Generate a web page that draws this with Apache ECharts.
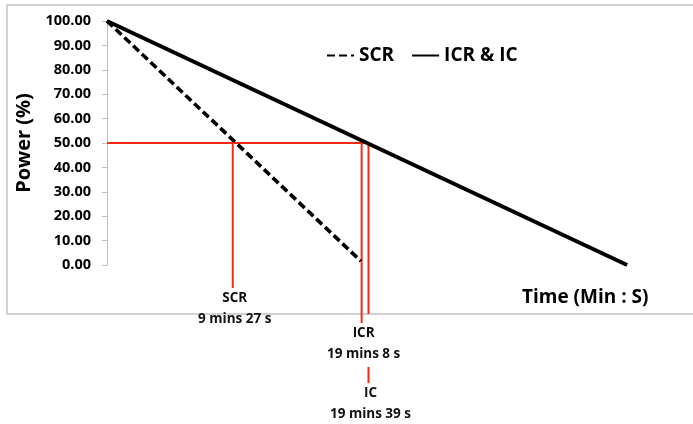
<!DOCTYPE html>
<html>
<head>
<meta charset="utf-8">
<script src="https://cdn.jsdelivr.net/npm/echarts@6/dist/echarts.min.js"></script>
<style>
html,body{margin:0;padding:0;background:#fff;}
#c{width:693px;height:424px;}
</style>
</head>
<body>
<div id="c"></div>
<script>
// Time in seconds, power in %
const scrLine = [[0, 100], [1145, 1.6]];
const icrIcLine = [[0, 100], [2345, 0]];
const yTicks = [0, 10, 20, 30, 40, 50, 60, 70, 80, 90, 100];
const halfPower = 50;
const scrTime = 567;   // 9 mins 27 s
const icrTime = 1148;  // 19 mins 8 s
const icTime = 1179;   // 19 mins 39 s
const scrLabel = 'SCR\n9 mins 27 s';
const icrLabel = 'ICR\n19 mins 8 s';
const icLabel = 'IC\n19 mins 39 s';
// leader-line ends below the axis (in % units)
const scrLeaderEnd = -9.4;
const icrLeaderEnd = -23.8;
const icLeaderUpperEnd = -20.1;
const icLeaderLower = [-41.8, -48.4];

const FONT = '"Open Sans", Lato, sans-serif';
const RED = '#f52a10';

const chart = echarts.init(document.getElementById('c'), null, {renderer: 'canvas'});

function redSeries(name, data, label) {
  return {
    name: name,
    type: 'line',
    data: data,
    symbol: 'none',
    clip: false,
    silent: true,
    z: 1,
    itemStyle: {color: RED},
    lineStyle: {color: RED, width: 2},
    endLabel: label ? {
      show: true,
      formatter: label,
      position: 'bottom',
      distance: 2,
      color: '#111',
      fontFamily: FONT,
      fontWeight: 'bold',
      fontSize: 13.5,
      lineHeight: 20.5,
      align: 'center',
      verticalAlign: 'top'
    } : undefined
  };
}

const option = {
  animation: false,
  backgroundColor: '#fff',
  grid: {left: 107, top: 21, height: 244, width: 532.3, containLabel: false},
  xAxis: {
    type: 'value',
    min: 0,
    max: 2400,
    show: false
  },
  yAxis: {
    type: 'value',
    min: 0,
    max: 100,
    interval: 10,
    name: 'Power (%)',
    nameLocation: 'middle',
    nameRotate: 90,
    nameGap: 64,
    nameTextStyle: {fontFamily: FONT, fontWeight: 'bold', fontSize: 20, color: '#000'},
    axisLine: {show: true, lineStyle: {color: '#bfbfbf', width: 1}},
    axisTick: {show: true, inside: false, length: 5, lineStyle: {color: '#bfbfbf'}},
    splitLine: {show: false},
    axisLabel: {
      margin: 16,
      fontFamily: FONT,
      fontWeight: 'bold',
      fontSize: 14.5,
      color: '#000',
      formatter: v => yTicks.includes(v) ? v.toFixed(2) : ''
    }
  },
  legend: {
    data: ['SCR', 'ICR & IC'],
    left: 321,
    top: 41,
    itemWidth: 27,
    itemHeight: 14,
    itemGap: 17,
    itemStyle: {opacity: 0},
    textStyle: {fontFamily: FONT, fontWeight: 'bold', fontSize: 19, color: '#000'}
  },
  graphic: [
    {
      type: 'rect',
      silent: true,
      z: -10,
      shape: {x: 7, y: 5, width: 700, height: 309},
      style: {fill: null, stroke: '#c4c4c4', lineWidth: 1.5}
    },
    {
      type: 'text',
      silent: true,
      z: 10,
      left: 508,
      top: 284,
      style: {
        text: 'Time (Min : S)',
        fontFamily: FONT,
        fontWeight: 'bold',
        fontSize: 19,
        fill: '#000',
        backgroundColor: '#fff',
        padding: [4, 14, 6, 14]
      }
    }
  ],
  series: [
    redSeries('half', [[0, halfPower], [icTime, halfPower]]),
    redSeries('scrLeader', [[scrTime, halfPower], [scrTime, scrLeaderEnd]], scrLabel),
    redSeries('icrLeader', [[icrTime, halfPower], [icrTime, icrLeaderEnd]], icrLabel),
    redSeries('icLeaderUpper', [[icTime, halfPower], [icTime, icLeaderUpperEnd]]),
    redSeries('icLeaderLower', [[icTime, icLeaderLower[0]], [icTime, icLeaderLower[1]]], icLabel),
    {
      name: 'SCR',
      type: 'line',
      data: scrLine,
      symbol: 'none',
      z: 3,
      itemStyle: {color: '#000'},
      lineStyle: {color: '#000', width: 3.6, type: [8, 4]}
    },
    {
      name: 'ICR & IC',
      type: 'line',
      data: icrIcLine,
      symbol: 'none',
      z: 3,
      itemStyle: {color: '#000'},
      lineStyle: {color: '#000', width: 4}
    }
  ]
};
chart.setOption(option);
</script>
</body>
</html>
